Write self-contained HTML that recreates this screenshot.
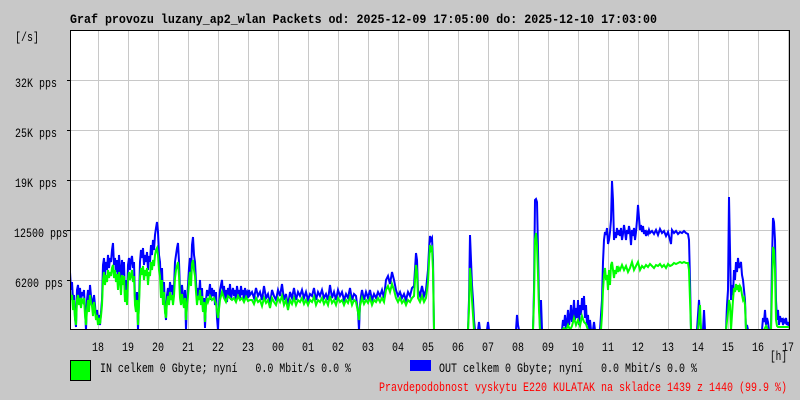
<!DOCTYPE html>
<html><head><meta charset="utf-8"><style>
html,body{margin:0;padding:0;background:#c8c8c8;}
svg{display:block;}
text{font-family:"Liberation Mono","DejaVu Sans Mono",monospace;}
</style></head><body>
<svg width="800" height="400" viewBox="0 0 800 400" xmlns="http://www.w3.org/2000/svg">
<rect x="0" y="0" width="800" height="400" fill="#c8c8c8"/>
<text x="70" y="23" font-size="13" font-weight="bold" fill="#000" textLength="587" lengthAdjust="spacingAndGlyphs">Graf provozu luzany_ap2_wlan Packets od: 2025-12-09 17:05:00 do: 2025-12-10 17:03:00</text>
<rect x="70" y="30" width="720" height="300" fill="#fff"/>
<g stroke="#c8c8c8" stroke-width="1" shape-rendering="crispEdges">
<line x1="98.5" y1="30" x2="98.5" y2="330"/><line x1="128.5" y1="30" x2="128.5" y2="330"/><line x1="158.5" y1="30" x2="158.5" y2="330"/><line x1="188.5" y1="30" x2="188.5" y2="330"/><line x1="218.5" y1="30" x2="218.5" y2="330"/><line x1="248.5" y1="30" x2="248.5" y2="330"/><line x1="278.5" y1="30" x2="278.5" y2="330"/><line x1="308.5" y1="30" x2="308.5" y2="330"/><line x1="338.5" y1="30" x2="338.5" y2="330"/><line x1="368.5" y1="30" x2="368.5" y2="330"/><line x1="398.5" y1="30" x2="398.5" y2="330"/><line x1="428.5" y1="30" x2="428.5" y2="330"/><line x1="458.5" y1="30" x2="458.5" y2="330"/><line x1="488.5" y1="30" x2="488.5" y2="330"/><line x1="518.5" y1="30" x2="518.5" y2="330"/><line x1="548.5" y1="30" x2="548.5" y2="330"/><line x1="578.5" y1="30" x2="578.5" y2="330"/><line x1="608.5" y1="30" x2="608.5" y2="330"/><line x1="638.5" y1="30" x2="638.5" y2="330"/><line x1="668.5" y1="30" x2="668.5" y2="330"/><line x1="698.5" y1="30" x2="698.5" y2="330"/><line x1="728.5" y1="30" x2="728.5" y2="330"/><line x1="758.5" y1="30" x2="758.5" y2="330"/><line x1="788.5" y1="30" x2="788.5" y2="330"/>
<line x1="70" y1="80.5" x2="790" y2="80.5"/><line x1="70" y1="130.5" x2="790" y2="130.5"/><line x1="70" y1="180.5" x2="790" y2="180.5"/><line x1="70" y1="230.5" x2="790" y2="230.5"/><line x1="70" y1="280.5" x2="790" y2="280.5"/>
</g>
<defs><clipPath id="pc"><rect x="71" y="31" width="718" height="298"/></clipPath></defs>
<g clip-path="url(#pc)" fill="none" stroke-width="2" stroke-linejoin="miter">
<polyline stroke="#0000ff" points="70,272 71,290 72,282 73,300 74,295 75,318 76,327 77,290 78,285 79,298 80,288 81,302 82,292 83,296 84,290 85,310 86,330 87,300 88,290 89,305 90,285 91,296 92,300 93,312 94,295 95,305 96,318 97,310 98,322 99,315 100,325 101,312 102,300 103,265 104,258 105,275 106,262 107,270 108,255 109,268 110,258 111,262 112,250 113,243 114,265 115,258 116,272 117,260 118,280 119,255 120,268 121,286 122,260 123,275 124,262 125,298 126,280 127,300 128,265 129,258 130,270 131,260 132,256 133,268 134,262 135,300 136,310 137,292 138,330 139,300 140,262 141,250 142,258 143,248 144,265 145,255 146,262 147,252 148,270 149,256 150,262 151,245 152,255 153,240 154,250 155,235 156,228 157,222 158,232 159,255 160,262 161,290 162,268 163,300 164,282 165,310 166,320 167,295 168,288 169,300 170,282 171,292 172,285 173,300 174,288 175,262 176,255 177,248 178,243 179,262 180,290 181,300 182,285 183,296 184,305 185,290 186,330 187,300 188,285 189,268 190,258 191,275 192,245 193,237 194,255 195,262 196,282 197,300 198,288 199,295 200,280 201,300 202,288 203,312 204,298 205,328 206,300 207,290 208,296 209,292 210,284 211,300 212,288 213,296 214,290 215,305 216,292 217,318 218,330 219,305 220,290 221,285 222,280 223,295 224,286 225,300 226,290 227,302 228,288 229,296 230,284 231,300 232,292 233,288 234,296 235,290 236,300 237,286 238,294 239,290 240,298 241,286 242,295 243,290 244,300 245,288 246,294 247,292 248,298 249,290 250,295 252,292 254,298 256,288 258,296 260,292 262,300 264,286 266,298 268,294 270,304 272,290 274,296 276,300 278,290 280,296 282,284 284,300 286,294 288,306 290,292 292,298 294,288 296,300 298,292 300,296 302,290 304,298 306,292 308,300 310,294 312,296 314,288 316,300 318,292 320,296 322,290 324,298 326,294 328,300 330,285 332,298 334,292 336,300 338,290 340,296 342,292 344,300 346,294 348,298 350,288 352,300 354,294 356,296 358,312 359,330 360,305 361,296 362,290 364,300 366,292 368,298 370,290 372,300 374,294 376,298 378,292 380,296 382,290 384,298 386,280 388,276 390,284 392,272 394,280 396,290 398,296 400,292 402,298 404,294 406,300 408,292 410,296 412,288 414,286 416,253 417,260 418,290 420,296 422,286 424,296 426,290 428,270 429,250 430,236 431,240 432,238 433,260 434,330 468,330 469,300 470,235 471,260 472,285 473,300 474,320 475,330 478,330 479,322 480,330 487,330 488,322 489,330 516,330 517,315 518,325 519,330 533,330 534,290 535,200 536,199 537,202 538,250 539,300 540,330 541,300 542,330 562,330 563,320 564,326 565,315 566,330 567,322 568,310 569,325 570,318 571,305 572,322 573,315 574,300 575,320 576,308 577,318 578,300 579,325 580,305 581,315 582,298 583,310 584,296 585,318 586,305 587,325 588,315 589,330 590,320 591,330 593,330 594,322 595,330 600,330 601,315 602,300 603,262 604,240 605,232 606,235 607,228 608,244 609,240 610,232 611,220 612,181 613,200 614,240 615,232 616,238 617,228 618,235 619,230 620,236 621,228 622,240 623,234 624,225 625,232 626,240 627,230 628,234 629,226 630,232 631,245 632,230 633,236 634,228 635,240 636,232 637,220 638,205 639,218 640,230 641,225 642,232 643,226 644,234 645,230 646,236 647,232 648,234 649,230 650,233 652,231 654,234 656,230 658,235 660,229 662,233 664,231 666,236 668,232 670,240 671,244 672,230 674,233 676,231 678,234 680,232 682,233 684,231 686,233 688,234 689,240 690,280 691,330 697,330 698,315 699,300 700,315 701,330 703,330 704,310 705,330 726,330 727,305 728,290 729,197 730,250 731,300 732,285 733,295 734,270 735,280 736,262 737,272 738,258 739,268 740,265 741,262 742,275 743,280 744,290 745,300 746,330 747,325 748,330 762,330 763,318 764,322 765,310 766,325 767,318 768,322 769,330 771,330 772,260 773,218 774,222 775,240 776,300 777,320 778,310 779,325 780,316 781,322 782,318 783,325 784,320 785,322 786,318 787,325 788,322 789,328"/>
<polyline stroke="#00ff00" points="70,290 71,300 72,295 73,310 74,300 75,318 76,325 77,300 78,295 79,305 80,298 81,308 82,300 83,302 84,298 85,315 86,325 87,310 88,300 89,312 90,295 91,303 92,306 93,316 94,302 95,310 96,320 97,315 98,325 99,318 100,324 101,316 102,305 103,280 104,272 105,285 106,275 107,282 108,270 109,278 110,272 111,276 112,268 113,265 114,278 115,270 116,282 117,274 118,290 119,272 120,280 121,295 122,275 123,285 124,276 125,302 126,290 127,305 128,280 129,272 130,280 131,275 132,270 133,282 134,276 135,305 136,312 137,300 138,325 139,305 140,278 141,268 142,275 143,266 144,280 145,270 146,276 147,268 148,285 149,272 150,276 151,262 152,270 153,260 154,266 155,255 156,250 157,248 158,255 159,270 160,276 161,298 162,280 163,305 164,292 165,312 166,318 167,302 168,296 169,305 170,292 171,300 172,295 173,305 174,296 175,278 176,270 177,266 178,262 179,276 180,298 181,305 182,294 183,302 184,308 185,298 186,320 187,305 188,296 189,282 190,272 191,286 192,264 193,260 194,270 195,276 196,292 197,305 198,296 199,300 200,290 201,305 202,296 203,312 204,302 205,322 206,305 207,298 208,302 210,296 212,300 214,298 216,304 218,318 220,300 222,292 224,298 226,302 228,296 230,298 232,300 234,298 236,302 238,296 240,300 242,298 244,302 246,297 248,301 250,300 252,300 254,304 256,298 258,302 260,300 262,306 264,298 266,303 268,300 270,308 272,298 274,302 276,305 278,298 280,302 282,296 284,305 286,300 288,310 290,300 292,304 294,298 296,305 298,300 300,302 302,298 304,304 306,300 308,305 310,300 312,302 314,297 316,305 318,300 320,302 322,298 324,304 326,300 328,305 330,296 332,303 334,300 336,305 338,298 340,302 342,300 344,305 346,300 348,303 350,297 352,305 354,300 356,302 358,312 359,320 360,306 362,298 364,304 366,300 368,303 370,298 372,305 374,300 376,302 378,298 380,302 382,298 384,302 386,290 388,286 390,292 392,284 394,290 396,298 398,302 400,298 402,303 404,300 406,305 408,300 410,302 412,298 414,296 416,265 417,272 418,298 420,302 422,296 424,302 426,298 428,282 429,262 430,245 431,250 432,248 433,270 434,330 468,330 469,310 470,268 471,280 472,300 473,315 474,330 533,330 534,300 535,240 536,233 537,245 538,275 539,310 540,330 562,330 564,328 566,330 568,325 570,330 572,326 574,318 576,325 578,320 580,326 582,316 584,322 586,324 588,330 601,330 602,315 603,290 604,275 605,268 606,280 607,275 608,290 609,270 610,285 611,265 612,262 613,270 614,278 615,270 616,274 617,266 618,272 619,268 620,270 622,265 624,270 626,266 628,272 630,268 632,262 634,270 636,266 638,262 640,270 642,266 644,268 646,265 648,267 650,264 652,266 654,268 656,265 658,266 660,264 662,267 664,265 666,268 668,264 670,266 672,265 674,263 676,264 678,263 680,262 682,263 684,262 686,263 688,263 689,270 690,300 691,330 698,330 699,318 700,305 701,330 726,330 728,312 729,300 730,305 731,330 733,300 734,288 735,292 736,284 737,290 738,285 739,292 740,286 741,288 742,295 743,300 744,298 745,305 746,330 764,330 766,326 768,330 771,330 772,290 773,247 774,250 775,270 776,320 777,326 778,327 790,327"/>
</g>
<rect x="70.5" y="30.5" width="719" height="299" fill="none" stroke="#000" stroke-width="1" shape-rendering="crispEdges"/>
<g stroke="#000" shape-rendering="crispEdges"><line x1="67" y1="80.5" x2="70" y2="80.5"/><line x1="67" y1="130.5" x2="70" y2="130.5"/><line x1="67" y1="180.5" x2="70" y2="180.5"/><line x1="67" y1="230.5" x2="70" y2="230.5"/><line x1="67" y1="280.5" x2="70" y2="280.5"/></g>
<g font-size="13" fill="#000">
<text x="15" y="41" textLength="24" lengthAdjust="spacingAndGlyphs">[/s]</text>
<text x="15" y="87" textLength="42" lengthAdjust="spacingAndGlyphs">32K pps</text>
<text x="15" y="137" textLength="42" lengthAdjust="spacingAndGlyphs">25K pps</text>
<text x="15" y="187" textLength="42" lengthAdjust="spacingAndGlyphs">19K pps</text>
<text x="14" y="237" textLength="54" lengthAdjust="spacingAndGlyphs">12500 pps</text>
<text x="15" y="287" textLength="48" lengthAdjust="spacingAndGlyphs">6200 pps</text>
</g>
<g font-size="13" fill="#000">
<text x="92" y="351" textLength="12" lengthAdjust="spacingAndGlyphs">18</text><text x="122" y="351" textLength="12" lengthAdjust="spacingAndGlyphs">19</text><text x="152" y="351" textLength="12" lengthAdjust="spacingAndGlyphs">20</text><text x="182" y="351" textLength="12" lengthAdjust="spacingAndGlyphs">21</text><text x="212" y="351" textLength="12" lengthAdjust="spacingAndGlyphs">22</text><text x="242" y="351" textLength="12" lengthAdjust="spacingAndGlyphs">23</text><text x="272" y="351" textLength="12" lengthAdjust="spacingAndGlyphs">00</text><text x="302" y="351" textLength="12" lengthAdjust="spacingAndGlyphs">01</text><text x="332" y="351" textLength="12" lengthAdjust="spacingAndGlyphs">02</text><text x="362" y="351" textLength="12" lengthAdjust="spacingAndGlyphs">03</text><text x="392" y="351" textLength="12" lengthAdjust="spacingAndGlyphs">04</text><text x="422" y="351" textLength="12" lengthAdjust="spacingAndGlyphs">05</text><text x="452" y="351" textLength="12" lengthAdjust="spacingAndGlyphs">06</text><text x="482" y="351" textLength="12" lengthAdjust="spacingAndGlyphs">07</text><text x="512" y="351" textLength="12" lengthAdjust="spacingAndGlyphs">08</text><text x="542" y="351" textLength="12" lengthAdjust="spacingAndGlyphs">09</text><text x="572" y="351" textLength="12" lengthAdjust="spacingAndGlyphs">10</text><text x="602" y="351" textLength="12" lengthAdjust="spacingAndGlyphs">11</text><text x="632" y="351" textLength="12" lengthAdjust="spacingAndGlyphs">12</text><text x="662" y="351" textLength="12" lengthAdjust="spacingAndGlyphs">13</text><text x="692" y="351" textLength="12" lengthAdjust="spacingAndGlyphs">14</text><text x="722" y="351" textLength="12" lengthAdjust="spacingAndGlyphs">15</text><text x="752" y="351" textLength="12" lengthAdjust="spacingAndGlyphs">16</text><text x="782" y="351" textLength="12" lengthAdjust="spacingAndGlyphs">17</text>
</g>
<text x="770" y="360" font-size="13" fill="#000" textLength="17" lengthAdjust="spacingAndGlyphs">[h]</text>
<rect x="70.5" y="360.5" width="20" height="20" fill="#00ff00" stroke="#000" stroke-width="1" shape-rendering="crispEdges"/>
<text x="100" y="372" font-size="13" fill="#000" textLength="251" lengthAdjust="spacingAndGlyphs" xml:space="preserve">IN celkem 0 Gbyte; nyní   0.0 Mbit/s 0.0 %</text>
<rect x="410" y="360" width="21" height="11" fill="#0000ff"/>
<text x="439" y="372" font-size="13" fill="#000" textLength="258" lengthAdjust="spacingAndGlyphs" xml:space="preserve">OUT celkem 0 Gbyte; nyní   0.0 Mbit/s 0.0 %</text>
<text x="379" y="391" font-size="13" fill="#ff0000" textLength="408" lengthAdjust="spacingAndGlyphs">Pravdepodobnost vyskytu E220 KULATAK na skladce 1439 z 1440 (99.9 %)</text>
</svg>
</body></html>
